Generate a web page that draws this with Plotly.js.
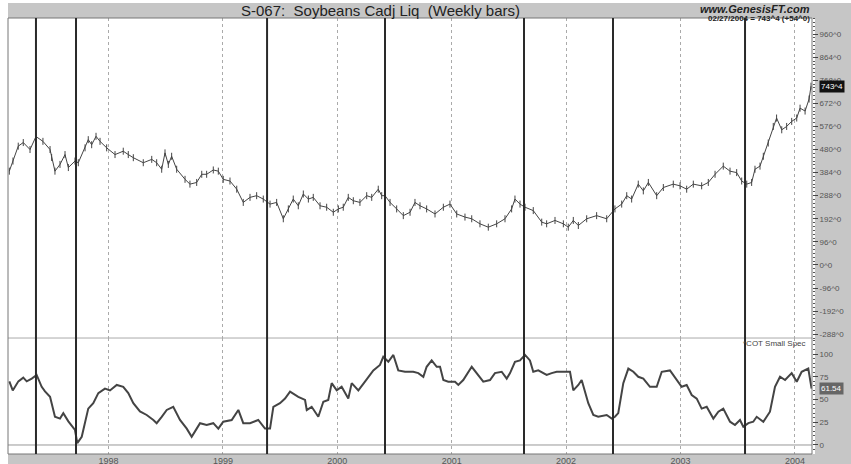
<!DOCTYPE html>
<html><head><meta charset="utf-8">
<script src="https://cdn.plot.ly/plotly-3.0.1.min.js"></script>
<style>html,body{margin:0;padding:0;background:#fff}#chart{width:851px;height:464px}</style>
</head><body><div id="chart"></div>
<script>
// Weekly price (carry-adjusted, cents) - decimal years
const priceYears = [1997.133,1997.165,1997.211,1997.255,1997.314,1997.366,1997.427,1997.489,1997.503,1997.532,1997.576,1997.620,1997.649,1997.707,1997.736,1997.795,1997.823,1997.853,1997.891,1997.926,1997.984,1998.057,1998.129,1998.173,1998.217,1998.304,1998.378,1998.421,1998.465,1998.494,1998.523,1998.552,1998.596,1998.669,1998.712,1998.771,1998.815,1998.858,1998.916,1998.960,1999.003,1999.062,1999.121,1999.178,1999.237,1999.295,1999.353,1999.412,1999.470,1999.528,1999.572,1999.615,1999.659,1999.703,1999.747,1999.790,1999.849,1999.907,1999.965,2000.009,2000.052,2000.096,2000.140,2000.198,2000.257,2000.301,2000.358,2000.388,2000.417,2000.461,2000.519,2000.577,2000.636,2000.679,2000.723,2000.781,2000.854,2000.927,2000.985,2001.044,2001.116,2001.175,2001.247,2001.320,2001.393,2001.466,2001.524,2001.553,2001.597,2001.641,2001.713,2001.787,2001.830,2001.903,2001.976,2002.019,2002.063,2002.107,2002.180,2002.267,2002.355,2002.427,2002.486,2002.530,2002.573,2002.631,2002.675,2002.719,2002.792,2002.850,2002.937,2002.996,2003.054,2003.112,2003.185,2003.243,2003.302,2003.374,2003.433,2003.491,2003.535,2003.579,2003.622,2003.651,2003.695,2003.724,2003.767,2003.811,2003.840,2003.885,2003.928,2003.972,2004.016,2004.045,2004.089,2004.124,2004.141];
const priceValues = [390,432,494,509,480,534,514,480,447,390,418,459,405,432,425,487,521,500,535,514,487,459,473,459,446,425,439,425,398,466,418,452,398,356,336,343,377,377,395,390,356,349,315,260,281,288,274,253,260,192,233,274,246,295,274,281,246,240,219,233,240,281,267,260,288,281,315,288,288,260,233,205,219,260,246,233,212,240,253,212,199,192,171,157,171,192,233,274,253,240,226,178,171,185,171,157,185,164,192,205,192,233,253,288,274,336,308,343,288,322,336,329,315,336,329,343,377,411,390,384,349,336,343,398,411,452,507,576,611,562,576,597,611,652,640,690,743.5];

// COT Small Spec index (0-100)
const cotYears = [1997.133,1997.163,1997.212,1997.255,1997.285,1997.329,1997.372,1997.416,1997.445,1997.489,1997.532,1997.576,1997.605,1997.649,1997.707,1997.727,1997.766,1997.795,1997.823,1997.867,1997.911,1997.969,1998.013,1998.072,1998.129,1998.173,1998.217,1998.275,1998.334,1998.392,1998.421,1998.465,1998.509,1998.566,1998.625,1998.684,1998.727,1998.771,1998.800,1998.858,1998.916,1998.960,1999.003,1999.077,1999.135,1999.178,1999.237,1999.309,1999.368,1999.412,1999.441,1999.499,1999.543,1999.587,1999.659,1999.718,1999.733,1999.776,1999.834,1999.878,1999.921,1999.951,1999.995,2000.038,2000.096,2000.126,2000.184,2000.242,2000.315,2000.373,2000.402,2000.446,2000.490,2000.533,2000.592,2000.664,2000.708,2000.752,2000.781,2000.825,2000.869,2000.898,2000.927,2000.970,2001.029,2001.058,2001.101,2001.175,2001.218,2001.276,2001.335,2001.378,2001.437,2001.481,2001.510,2001.553,2001.597,2001.641,2001.684,2001.713,2001.757,2001.830,2001.874,2001.918,2002.005,2002.034,2002.063,2002.107,2002.136,2002.165,2002.194,2002.238,2002.281,2002.355,2002.399,2002.427,2002.456,2002.500,2002.544,2002.588,2002.631,2002.675,2002.733,2002.792,2002.836,2002.908,2002.967,2003.010,2003.054,2003.098,2003.142,2003.185,2003.229,2003.287,2003.331,2003.374,2003.433,2003.476,2003.520,2003.549,2003.593,2003.636,2003.666,2003.724,2003.782,2003.826,2003.870,2003.914,2003.972,2004.016,2004.059,2004.117,2004.146];
const cotValues = [70,60,70,74,70,73,77,64,59,53,31,29,35,26,16.5,2,9,24,40,46,57,62,60,66,64,57,46,37,33,27.5,24,31,38.5,42,27.5,18,9,18,24,22,24,18,25.6,27.5,38.5,24,24,27.5,18,18,42,46,51,58.6,53,49.5,38.5,42,31,47.6,49.5,68,60,64,51,68,60,69.6,82,88,97,91.5,99,82,80.5,80.5,79,75,86,93,86,86,71.4,69.6,69.6,66,71.4,86,79,69.6,71.4,79,80.5,73,79,91.5,93,99,93,80.5,82,77,79,80.5,80.5,80.5,60,66,71.4,60,46,33,31,33,29,31,35,68,84,80.5,75,73,64,64,80.5,82,71.4,64,66,55,51,40,42,29,36.6,40,25.6,22,27.5,20,24,25.6,31,25.6,36.6,64,75,71.4,79,69.6,80.5,84,62];

// Signal (thick vertical) line dates
const signalYears = [1997.366, 1997.716, 1999.386, 2000.417, 2001.632, 2002.410, 2003.564];

const yearTicks = [1998, 1999, 2000, 2001, 2002, 2003, 2004];
const yearLabels = ['1998', '1999', '2000', '2001', '2002', '2003', '2004'];
const priceTickVals = [960, 864, 768, 672, 576, 480, 384, 288, 192, 96, 0, -96, -192, -288];
const priceTickText = ['960^0', '864^0', '768^0', '672^0', '576^0', '480^0', '384^0', '288^0', '192^0', '96^0', '0^0', '-96^0', '-192^0', '-288^0'];
const cotTickVals = [0, 25, 50, 75, 100];
const cotTickText = ['0', '25', '50', '75', '100'];
const lastPriceText = '743^4';
const lastCotText = '61.54';
const headerText = '02/27/2004 = 743^4 (+54^0)';

const GRAY = '#c6c6c6';
const FONT = 'Liberation Sans, Arial, sans-serif';

const traces = [
  {x: priceYears, y: priceValues, xaxis: 'x', yaxis: 'y', type: 'scatter', mode: 'lines+markers',
   line: {color: '#444', width: 1}, marker: {symbol: 'line-ns', size: 5, line: {color: '#444', width: 1}},
   hoverinfo: 'skip', showlegend: false},
  {x: cotYears, y: cotValues, xaxis: 'x', yaxis: 'y2', type: 'scatter', mode: 'lines',
   line: {color: '#444', width: 2}, hoverinfo: 'skip', showlegend: false}
];

const shapes = [
  // gray frame regions (paper)
  {type: 'rect', xref: 'paper', yref: 'paper', x0: 0, x1: 1.06, y0: 1, y1: 1.0344, fillcolor: GRAY, line: {width: 0}, layer: 'below'},
  {type: 'rect', xref: 'paper', yref: 'paper', x0: 1.0037, x1: 1.06, y0: -0.03, y1: 1, fillcolor: GRAY, line: {width: 0}, layer: 'below'},
  {type: 'rect', xref: 'paper', yref: 'paper', x0: 0, x1: 1.06, y0: -0.03, y1: 0, fillcolor: GRAY, line: {width: 0}, layer: 'below'},
  // panel separator
  {type: 'line', xref: 'paper', yref: 'paper', x0: 0, x1: 1, y0: 0.266, y1: 0.266, line: {color: '#aaa', width: 1}},
  // zero line of lower panel
  {type: 'line', xref: 'paper', yref: 'y2', x0: 0, x1: 1, y0: 0, y1: 0, line: {color: '#999', width: 1}},
  // border
  {type: 'rect', xref: 'paper', yref: 'paper', x0: 0, x1: 1, y0: 0, y1: 1, line: {color: '#777', width: 1}}
].concat(signalYears.map(d => ({type: 'line', xref: 'x', yref: 'paper', x0: d, x1: d, y0: 0, y1: 1, line: {color: '#2a2a2a', width: 2}})));

const annotations = [
  {text: 'S-067:  Soybeans Cadj Liq  (Weekly bars)', xref: 'paper', yref: 'paper', x: 0.4627, y: 1.018, xanchor: 'center', yanchor: 'middle', showarrow: false, font: {family: FONT, size: 15, color: '#222'}},
  {text: '<b><i>www.GenesisFT.com</i></b>', xref: 'paper', yref: 'paper', x: 1.0, y: 1.021, xanchor: 'right', yanchor: 'middle', showarrow: false, font: {family: FONT, size: 11, color: '#222'}},
  {text: '<b>' + headerText + '</b>', xref: 'paper', yref: 'paper', x: 1.0, y: 0.998, xanchor: 'right', yanchor: 'middle', showarrow: false, font: {family: FONT, size: 8, color: '#222'}},
  {text: '*COT Small Spec', xref: 'paper', yref: 'paper', x: 0.995, y: 0.253, xanchor: 'right', yanchor: 'middle', showarrow: false, font: {family: FONT, size: 8, color: '#444'}},
  {text: lastPriceText, xref: 'paper', yref: 'y', x: 1.0087, y: priceValues[priceValues.length - 1], xanchor: 'left', yanchor: 'middle', showarrow: false, bgcolor: '#111', borderpad: 1, font: {family: FONT, size: 8, color: '#fff'}},
  {text: lastCotText, xref: 'paper', yref: 'y2', x: 1.0087, y: cotValues[cotValues.length - 1], xanchor: 'left', yanchor: 'middle', showarrow: false, bgcolor: '#666', borderpad: 1, font: {family: FONT, size: 8, color: '#fff'}}
];

const layout = {
  width: 851, height: 464,
  margin: {l: 8, r: 39, t: 18, b: 10, pad: 0},
  paper_bgcolor: '#fff', plot_bgcolor: '#fff',
  font: {family: FONT, size: 8, color: '#444'},
  showlegend: false,
  xaxis: {anchor: 'y2', range: [1997.1215, 2004.1495], tickvals: yearTicks, ticktext: yearLabels,
          showgrid: true, gridcolor: '#aaa', griddash: 'dot', gridwidth: 1, zeroline: false,
          ticks: '', ticklen: 0, tickfont: {size: 9, color: '#555'}, showline: false, fixedrange: true},
  yaxis: {domain: [0.266, 1], range: [-304, 1027], side: 'right', anchor: 'x', showgrid: false, zeroline: false,
          tickvals: priceTickVals, ticktext: priceTickText, ticks: 'outside', ticklen: 5, tickcolor: '#444',
          minor: {dtick: 16, tick0: 0, ticks: 'outside', ticklen: 2, tickcolor: '#555', showgrid: false},
          tickfont: {size: 8, color: '#555'}, showline: false},
  yaxis2: {domain: [0, 0.266], range: [-9.9, 117.6], side: 'right', anchor: 'x', showgrid: false, zeroline: false,
          tickvals: cotTickVals, ticktext: cotTickText, ticks: 'outside', ticklen: 5, tickcolor: '#444',
          minor: {dtick: 5, tick0: 0, ticks: 'outside', ticklen: 2, tickcolor: '#555', showgrid: false},
          tickfont: {size: 8, color: '#555'}, showline: false},
  shapes: shapes,
  annotations: annotations
};

Plotly.newPlot('chart', traces, layout, {staticPlot: true, displayModeBar: false});
</script>
</body></html>
